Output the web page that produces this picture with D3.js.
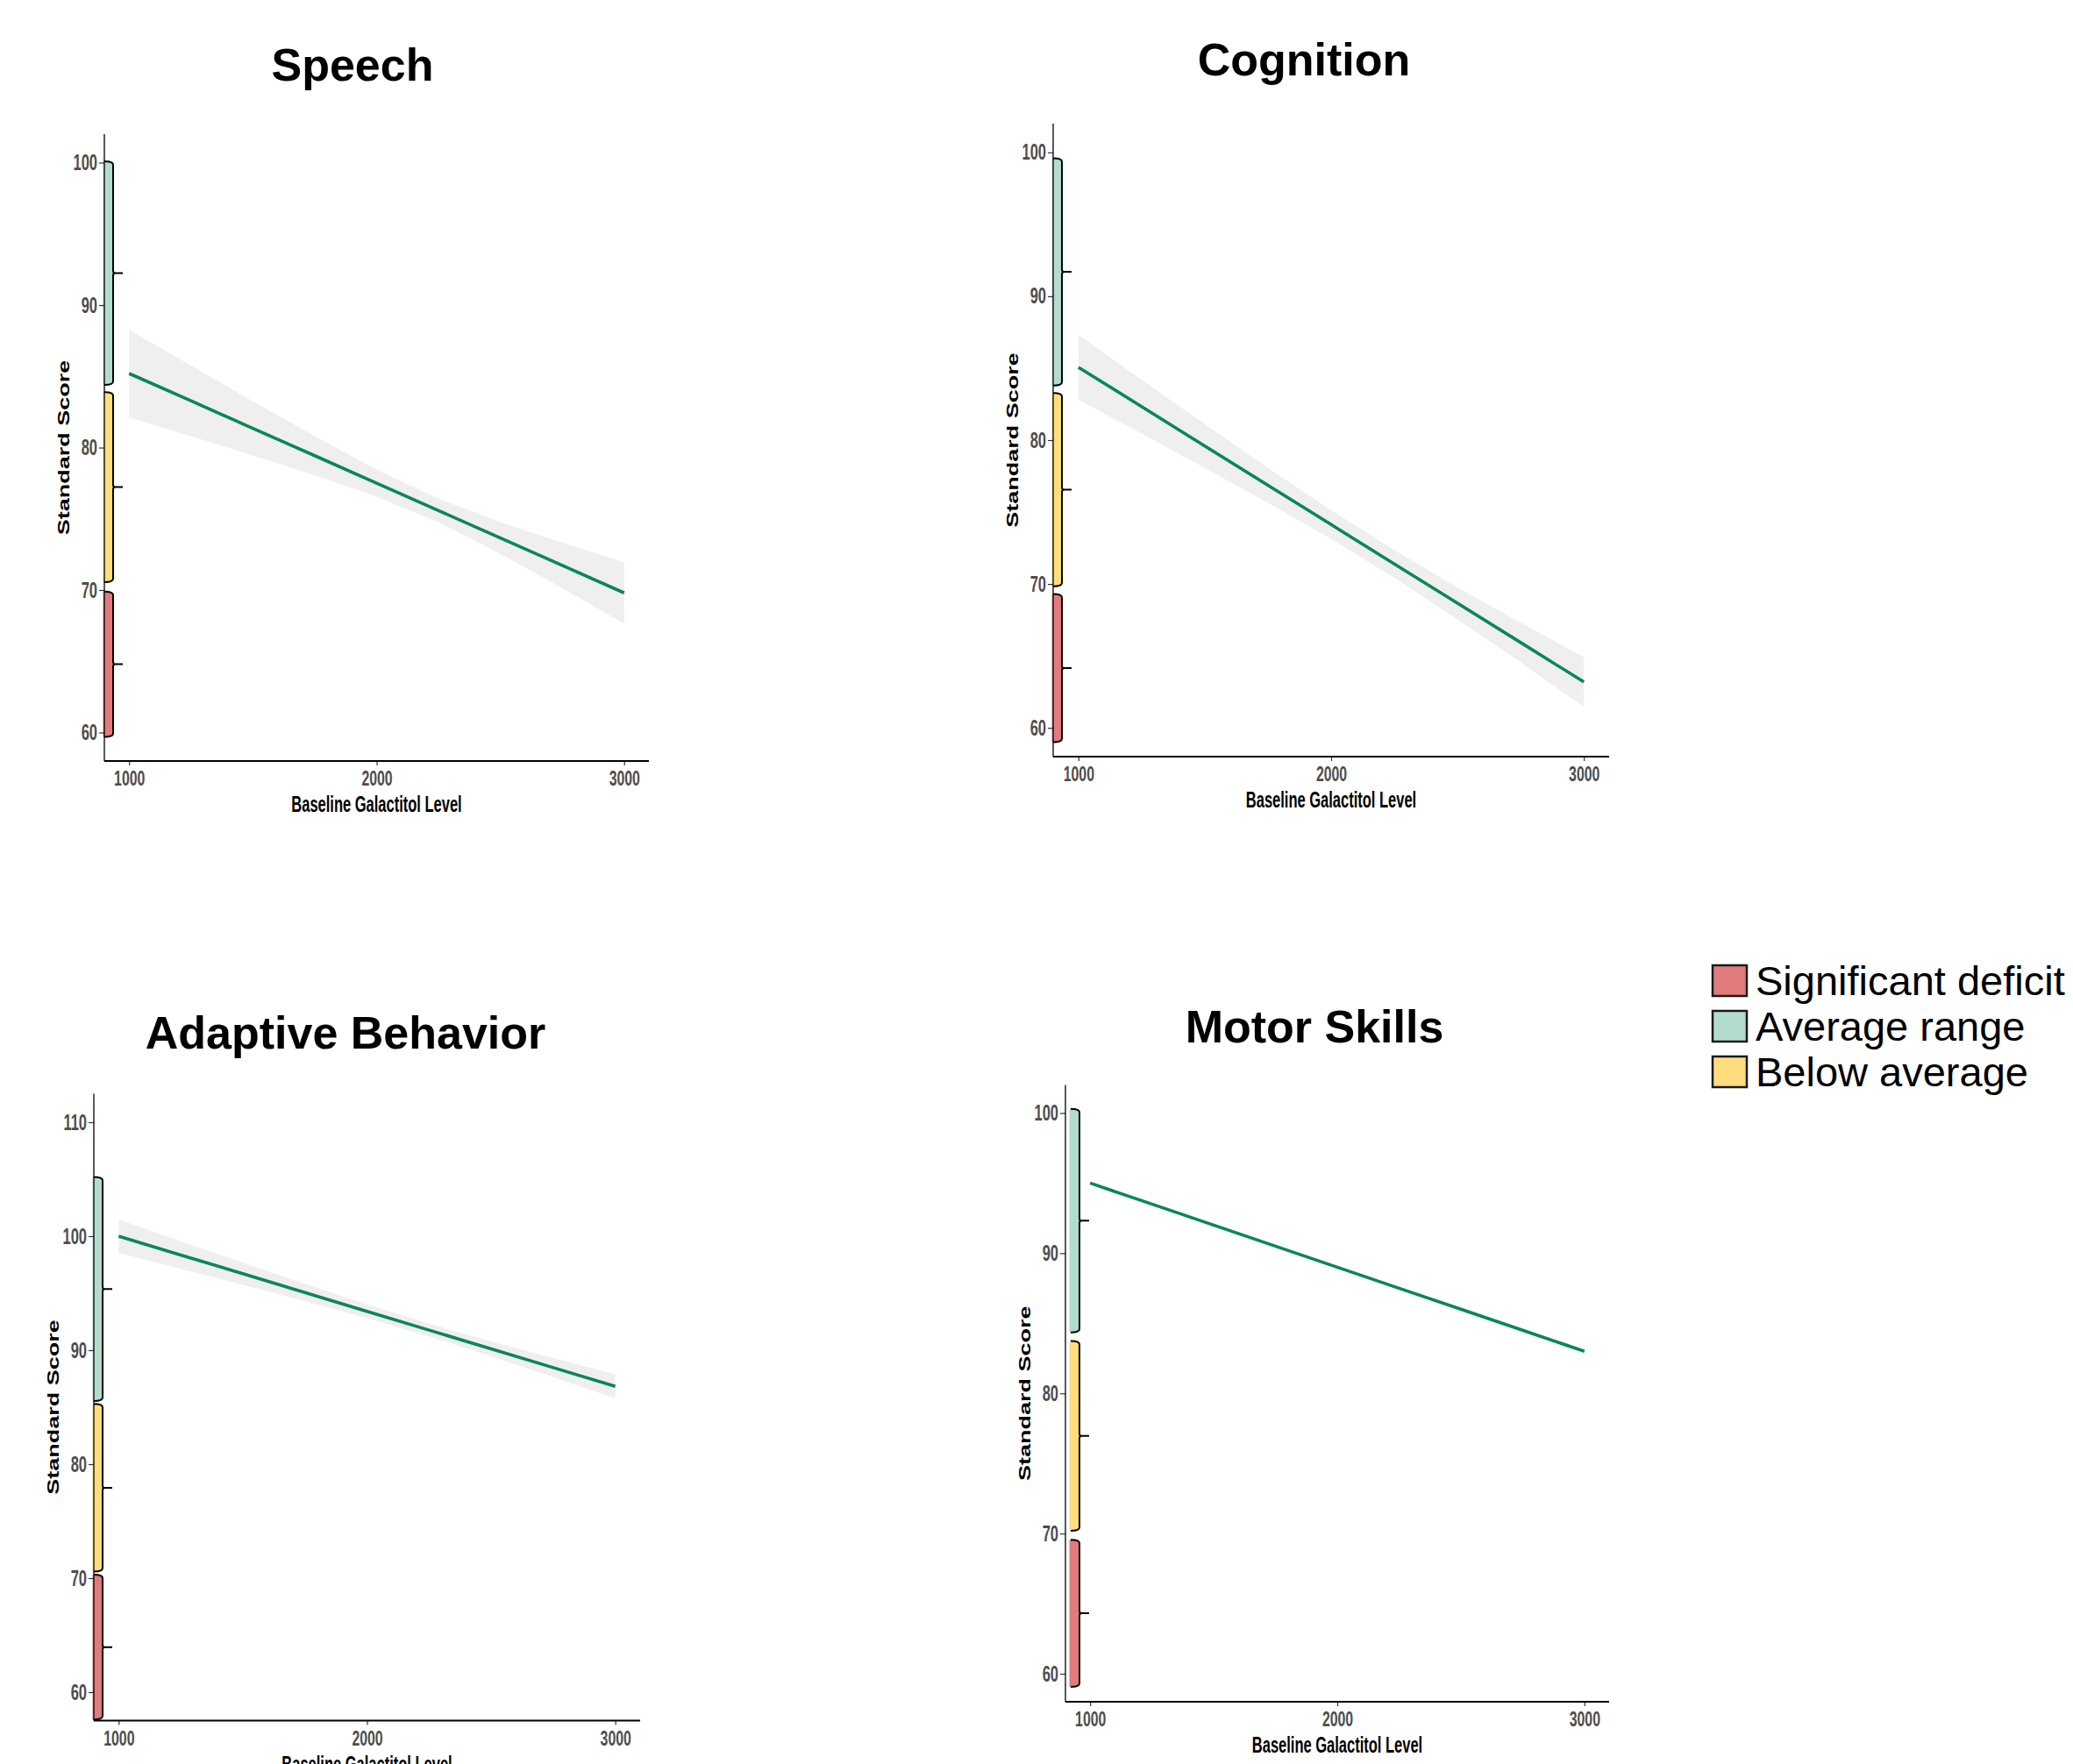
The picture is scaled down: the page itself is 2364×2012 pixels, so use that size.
<!DOCTYPE html>
<html>
<head>
<meta charset="utf-8">
<script src="https://cdn.jsdelivr.net/npm/d3@7"></script>
<style>
  html, body { margin: 0; padding: 0; background: #ffffff; }
  svg { display: block; }
</style>
</head>
<body>
<svg id="chart" width="2364" height="2012"></svg>
<script>
// ---------------- DATA ----------------
const panelTitles = ["Speech", "Cognition", "Adaptive Behavior", "Motor Skills"];
const xLabel = "Baseline Galactitol Level";
const yLabel = "Standard Score";
const bandNames = ["Significant deficit", "Average range", "Below average"];
const xTicks = [1000, 2000, 3000];
const xDomain = [900, 3100];

const xSample = [1000, 1250, 1500, 1750, 2000, 2250, 2500, 2750, 3000];

// Speech
const speechFit   = [85.2, 83.28, 81.35, 79.43, 77.5, 75.58, 73.65, 71.73, 69.8];
const speechUpper = [88.27, 85.76, 83.25, 80.8, 78.45, 76.41, 74.76, 73.32, 71.95];
const speechLower = [82.13, 80.8, 79.45, 78.06, 76.55, 74.75, 72.54, 70.14, 67.65];
const speechBands = [[59.7, 69.9], [84.4, 100.1], [70.55, 83.9]];
const speechYTicks = [60, 70, 80, 90, 100];
const speechYDomain = [58, 102];

// Cognition
const cognitionFit   = [85.06, 82.33, 79.59, 76.86, 74.13, 71.39, 68.66, 65.93, 63.19];
const cognitionUpper = [87.32, 84.2, 81.11, 78.07, 75.13, 72.35, 69.76, 67.31, 64.91];
const cognitionLower = [82.8, 80.46, 78.07, 75.65, 73.13, 70.43, 67.56, 64.55, 61.47];
const cognitionBands = [[59.0, 69.3], [83.8, 99.6], [69.84, 83.28]];
const cognitionYTicks = [60, 70, 80, 90, 100];
const cognitionYDomain = [58, 102];

// Adaptive Behavior
const adaptiveFit   = [100, 98.35, 96.71, 95.06, 93.41, 91.76, 90.12, 88.47, 86.82];
const adaptiveUpper = [101.47, 99.56, 97.68, 95.82, 94.01, 92.32, 90.77, 89.3, 87.88];
const adaptiveLower = [98.53, 97.14, 95.74, 94.3, 92.81, 91.2, 89.47, 87.64, 85.76];
const adaptiveBands = [[57.6, 70.3], [85.54, 105.2], [70.58, 85.28]];
const adaptiveYTicks = [60, 70, 80, 90, 100, 110];
const adaptiveYDomain = [57.5, 112.5];

// Motor Skills
const motorFit   = [95, 93.5, 92, 90.5, 89, 87.5, 86, 84.5, 83];
const motorUpper = [95.1, 93.6, 92.1, 90.6, 89.1, 87.6, 86.1, 84.6, 83.1];
const motorLower = [94.9, 93.4, 91.9, 90.4, 88.9, 87.4, 85.9, 84.4, 82.9];
const motorBands = [[59.06, 69.56], [84.34, 100.3], [70.19, 83.74]];
const motorYTicks = [60, 70, 80, 90, 100];
const motorYDomain = [58, 102];

// ---------------- STYLE / LAYOUT ----------------
const bandColors = ["#e07c7c", "#b3dccd", "#fedd7e"];
const lineColor = "#0a8754";
const ribbonColor = "#efefef";
const squeeze = 0.66;
const fontBold = "'Liberation Sans', Arial, Helvetica, sans-serif";

const layouts = [
  {left: 119, right: 740, top: 153, bottom: 868, titleX: 402, titleY: 92, braceShift: 0},
  {left: 1201, right: 1835, top: 141, bottom: 863, titleX: 1487, titleY: 86, braceShift: 0},
  {left: 107, right: 730, top: 1247.5, bottom: 1962.5, titleX: 394, titleY: 1196, braceShift: 0},
  {left: 1215, right: 1835, top: 1237.5, bottom: 1941, titleX: 1499, titleY: 1189, braceShift: 6}
];

const panelData = [
  {fit: speechFit, upper: speechUpper, lower: speechLower, bands: speechBands, yTicks: speechYTicks, yDomain: speechYDomain},
  {fit: cognitionFit, upper: cognitionUpper, lower: cognitionLower, bands: cognitionBands, yTicks: cognitionYTicks, yDomain: cognitionYDomain},
  {fit: adaptiveFit, upper: adaptiveUpper, lower: adaptiveLower, bands: adaptiveBands, yTicks: adaptiveYTicks, yDomain: adaptiveYDomain},
  {fit: motorFit, upper: motorUpper, lower: motorLower, bands: motorBands, yTicks: motorYTicks, yDomain: motorYDomain}
];

const svg = d3.select("#chart");
svg.append("rect").attr("width", 2364).attr("height", 2012).attr("fill", "#ffffff");

function braceStroke(x0, x1, x2, yT, yB) {
  const ym = (yT + yB) / 2, r = 4, s = 2.5;
  return `M${x0},${yT} Q${x1},${yT} ${x1},${yT + r} L${x1},${ym - s} Q${x1},${ym} ${x1 + s},${ym} L${x2},${ym} ` +
         `M${x1 + s},${ym} Q${x1},${ym} ${x1},${ym + s} L${x1},${yB - r} Q${x1},${yB} ${x0},${yB}`;
}
function braceFill(x0, x1, yT, yB) {
  const r = 4;
  return `M${x0},${yT} Q${x1},${yT} ${x1},${yT + r} L${x1},${yB - r} Q${x1},${yB} ${x0},${yB} Z`;
}

panelTitles.forEach((title, i) => {
  const L = layouts[i];
  const D = panelData[i];
  const g = svg.append("g");

  const x = d3.scaleLinear().domain(xDomain).range([L.left, L.right]);
  const y = d3.scaleLinear().domain(D.yDomain).range([L.bottom, L.top]);

  // ribbon
  const area = d3.area()
    .x((d, k) => x(xSample[k]))
    .y0((d, k) => y(D.lower[k]))
    .y1((d, k) => y(D.upper[k]));
  g.append("path").datum(D.fit).attr("d", area).attr("fill", ribbonColor);

  // fit line
  const line = d3.line().x((d, k) => x(xSample[k])).y(d => y(d));
  g.append("path").datum(D.fit).attr("d", line)
    .attr("fill", "none").attr("stroke", lineColor).attr("stroke-width", 3.6);

  // braces (bands)
  const x0 = L.left + L.braceShift;
  const x1 = x0 + 10;
  const x2 = x0 + 21;
  D.bands.forEach((b, k) => {
    const yT = y(b[1]), yB = y(b[0]);
    g.append("path").attr("d", braceFill(x0 - 1.5, x1, yT, yB)).attr("fill", bandColors[k]);
    g.append("path").attr("d", braceStroke(x0, x1, x2, yT, yB))
      .attr("fill", "none").attr("stroke", "#000").attr("stroke-width", 2)
      .attr("stroke-linejoin", "round");
  });

  // axes
  const yAxis = d3.axisLeft(y).tickValues(D.yTicks).tickSize(6).tickSizeOuter(0).tickPadding(2)
    .tickFormat(d3.format("d"));
  const gy = g.append("g").attr("transform", `translate(${L.left},0)`).call(yAxis);
  gy.select(".domain").remove();
  gy.selectAll(".tick line").attr("stroke", "#333").attr("stroke-width", 1.2);
  gy.selectAll(".tick text")
    .attr("fill", "#4d4d4d").attr("font-family", fontBold).attr("font-weight", "bold")
    .attr("font-size", 25)
    .attr("x", -8 / squeeze)
    .attr("transform", `scale(${squeeze},1)`);

  const xAxis = d3.axisBottom(x).tickValues(xTicks).tickSize(5).tickSizeOuter(0).tickPadding(6)
    .tickFormat(d3.format("d"));
  const gx = g.append("g").attr("transform", `translate(0,${L.bottom})`).call(xAxis);
  gx.select(".domain").remove();
  gx.selectAll(".tick line").attr("stroke", "#333").attr("stroke-width", 1.2);
  gx.selectAll(".tick text")
    .attr("fill", "#4d4d4d").attr("font-family", fontBold).attr("font-weight", "bold")
    .attr("font-size", 24)
    .attr("transform", `scale(${squeeze},1)`);

  // axis lines
  g.append("line").attr("x1", L.left).attr("x2", L.left).attr("y1", L.top).attr("y2", L.bottom)
    .attr("stroke", "#000").attr("stroke-width", 1.3);
  g.append("line").attr("x1", L.left).attr("x2", L.right).attr("y1", L.bottom).attr("y2", L.bottom)
    .attr("stroke", "#000").attr("stroke-width", 1.8);

  // axis titles
  g.append("text")
    .attr("transform", `translate(${(L.left + L.right) / 2},${L.bottom + 58}) scale(${squeeze},1)`)
    .attr("text-anchor", "middle")
    .attr("font-family", fontBold).attr("font-weight", "bold").attr("font-size", 25)
    .attr("fill", "#000").text(xLabel);

  g.append("text")
    .attr("transform", `translate(${L.left - 40},${(L.top + L.bottom) / 2}) scale(${squeeze},1) rotate(-90)`)
    .attr("text-anchor", "middle")
    .attr("font-family", fontBold).attr("font-weight", "bold").attr("font-size", 27)
    .attr("fill", "#000").text(yLabel);

  // panel title
  g.append("text")
    .attr("x", L.titleX).attr("y", L.titleY)
    .attr("text-anchor", "middle")
    .attr("font-family", fontBold).attr("font-weight", "bold").attr("font-size", 52)
    .attr("fill", "#000").text(title);
});

// ---------------- LEGEND ----------------
const legend = svg.append("g").attr("transform", "translate(1953,1101)");
bandNames.forEach((name, k) => {
  const row = legend.append("g").attr("transform", `translate(0,${k * 52})`);
  row.append("rect").attr("x", 0).attr("y", 0).attr("width", 39).attr("height", 35)
    .attr("fill", bandColors[k]).attr("stroke", "#1a1a1a").attr("stroke-width", 2.5);
  row.append("text").attr("x", 49).attr("y", 34)
    .attr("font-family", fontBold).attr("font-size", 47).attr("fill", "#000").text(name);
});
</script>
</body>
</html>
